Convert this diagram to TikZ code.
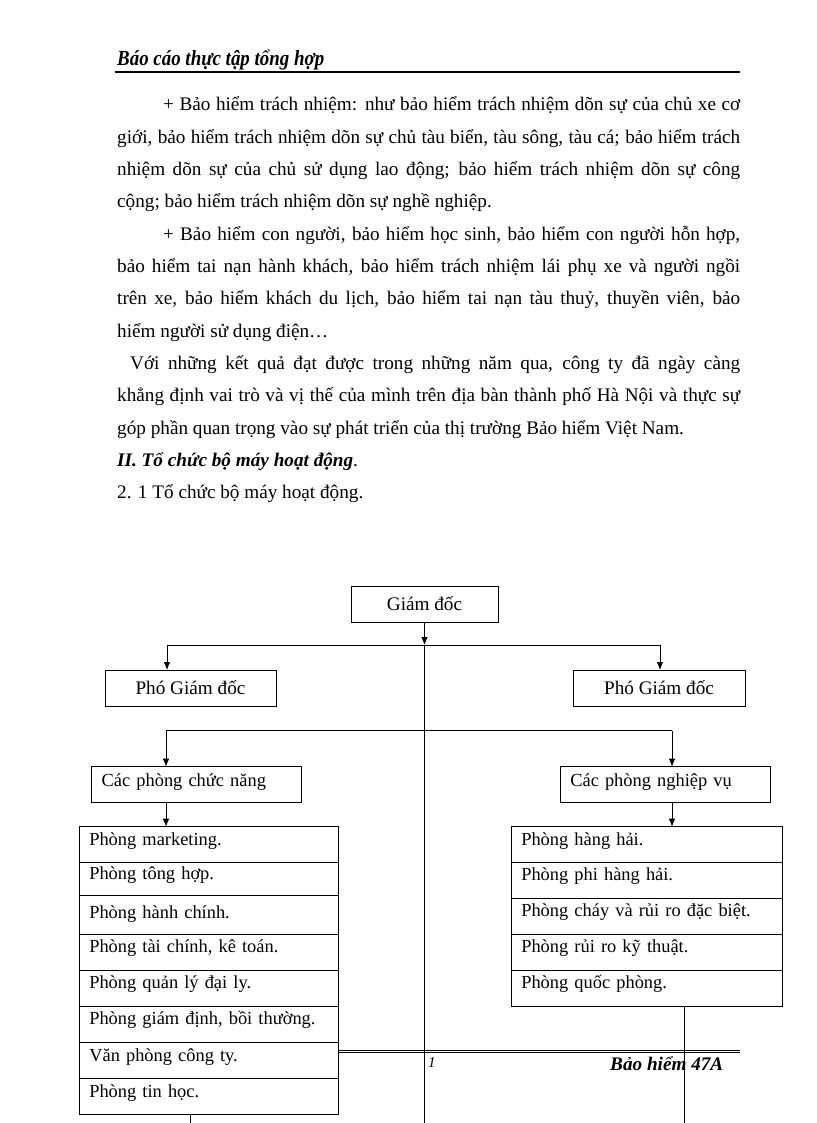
\documentclass[tikz,border=0pt]{standalone}
\usepackage{fontspec}
\setmainfont{Liberation Serif}
\usetikzlibrary{arrows.meta,positioning}

\newcommand{\bodyfont}{\fontsize{19.2}{32.3}\selectfont\hyphenpenalty=10000\tolerance=9999}
\newcommand{\chartfont}{\fontsize{19.2}{23}\selectfont}
\newcommand{\rowfont}{\fontsize{18.4}{22}\selectfont}

\begin{document}
\begin{tikzpicture}[x=1pt, y=-1pt,
    body/.style = {anchor=base west, inner sep=0pt, text width=623pt, align=justify, font=\bodyfont},
    box/.style = {draw, fill=white, line width=0.8pt, outer sep=0pt, inner sep=0pt, font=\chartfont},
    lbox/.style = {box, inner xsep=10pt, align=left, font=\rowfont, text height=10pt, text depth=9pt},
    row/.style = {lbox, anchor=north west},
    lrow/.style = {row, text width=239.4pt},
    rrow/.style = {row, text width=251pt},
    arr/.style = {-{Latex[length=8pt,width=6.5pt]}, line width=0.8pt},
    ln/.style = {line width=0.8pt}]
    \useasboundingbox[fill=white] (0,0) rectangle (816,1123);

    % page header
    \node[anchor=base west, inner sep=0pt, xscale=0.88, font=\fontsize{21.5}{25}\selectfont\bfseries\itshape] (hdr) at (117,66) {Báo cáo thực tập tổng hợp};
    \draw[line width=1.8pt] (115,72) -- (740,72);

    % text
    \node[body] (par1) at (117,111) {\hspace*{46pt}+ Bảo hiểm trách nhiệm: như bảo hiểm trách nhiệm dõn sự của chủ xe cơ\linebreak
        giới, bảo hiểm trách nhiệm dõn sự chủ tàu biển, tàu sông, tàu cá; bảo hiểm trách\linebreak
        nhiệm dõn sự của chủ sử dụng lao động; bảo hiểm trách nhiệm dõn sự công\linebreak
        cộng; bảo hiểm trách nhiệm dõn sự nghề nghiệp.};
    \node[body] (par2) at (117,240.2) {\hspace*{46pt}+ Bảo hiểm con người, bảo hiểm học sinh, bảo hiểm con người hỗn hợp,\linebreak
        bảo hiểm tai nạn hành khách, bảo hiểm trách nhiệm lái phụ xe và người ngồi\linebreak
        trên xe, bảo hiểm khách du lịch, bảo hiểm tai nạn tàu thuỷ, thuyền viên, bảo\linebreak
        hiểm người sử dụng điện…};
    \node[body] (par3) at (117,369.4) {\hspace*{13pt}Với những kết quả đạt được trong những năm qua, công ty đã ngày càng\linebreak
        khẳng định vai trò và vị thế của mình trên địa bàn thành phố Hà Nội và thực sự\linebreak
        góp phần quan trọng vào sự phát triển của thị trường Bảo hiểm Việt Nam.};
    \node[body] (sec2) at (117,466.3) {\textbf{\textit{II. Tổ chức bộ máy hoạt động}}.};
    \node[body] (sec21) at (117,498.6) {2. 1 Tổ chức bộ máy hoạt động.};

    % page footer
    \draw[ln] (117,1050) -- (740,1050);
    \draw[ln] (117,1052.7) -- (740,1052.7);
    \node[anchor=base west, inner sep=0pt, font=\fontsize{15}{18}\selectfont\itshape] (pgno) at (428,1067) {1};
    \node[anchor=base west, inner sep=0pt, font=\chartfont\bfseries\itshape] (ftr) at (610,1070) {Bảo hiểm 47A};

    % chart
    \node[box, minimum width=147pt, minimum height=36pt, anchor=north west] (gd) at (351,586) {Giám đốc};
    \node[box, minimum width=171pt, minimum height=36pt, anchor=north west] (pgdl) at (105,670) {Phó Giám đốc};
    \node[box, minimum width=172pt, minimum height=36pt, anchor=north west] (pgdr) at (573,670) {Phó Giám đốc};
    \node[lbox, text width=190pt, text height=13pt, minimum height=35.3pt, anchor=north west] (cpcn) at (91.7,766.7) {Các phòng chức năng};
    \node[lbox, text width=189.7pt, text height=13pt, minimum height=35.3pt, anchor=north west] (cpnv) at (560.3,766.7) {Các phòng nghiệp vụ};

    \node[lrow, minimum height=35.6pt] (L1) at (79.3,826.7) {Phòng marketing.};
    \node[lrow, minimum height=33pt, below=0pt of L1] (L2) {Phòng tông hợp.};
    \node[lrow, minimum height=39pt, text height=16pt, below=0pt of L2] (L3) {Phòng hành chính.};
    \node[lrow, minimum height=35.7pt, below=0pt of L3] (L4) {Phòng tài chính, kê toán.};
    \node[lrow, minimum height=36pt, below=0pt of L4] (L5) {Phòng quản lý đại ly.};
    \node[lrow, minimum height=36.3pt, below=0pt of L5] (L6) {Phòng giám định, bồi thường.};
    \node[lrow, minimum height=36.4pt, below=0pt of L6] (L7) {Văn phòng công ty.};
    \node[lrow, minimum height=35.6pt, below=0pt of L7] (L8) {Phòng tin học.};

    \node[rrow, minimum height=35.6pt] (R1) at (511.3,826.7) {Phòng hàng hải.};
    \node[rrow, minimum height=36pt, below=0pt of R1] (R2) {Phòng phi hàng hải.};
    \node[rrow, minimum height=36pt, below=0pt of R2] (R3) {Phòng cháy và rủi ro đặc biệt.};
    \node[rrow, minimum height=35.7pt, below=0pt of R3] (R4) {Phòng rủi ro kỹ thuật.};
    \node[rrow, minimum height=36pt, below=0pt of R4] (R5) {Phòng quốc phòng.};

    \coordinate (j1) at (424.5,645);
    \coordinate (h1l) at (167,645);
    \coordinate (h1r) at (660,645);
    \coordinate (h2l) at (166,730.5);
    \coordinate (h2r) at (672,730.5);
    \coordinate (bot) at (424.5,1123);
    \coordinate (botl) at (190,1123);
    \coordinate (botr) at (684,1123);

    \draw[arr] (gd) -- (j1);
    \draw[ln] (h1l) -- (h1r);
    \draw[ln] (j1) -- (bot);
    \draw[arr] (h1l) -- (h1l |- pgdl.north);
    \draw[arr] (h1r) -- (h1r |- pgdr.north);
    \draw[ln] (h2l) -- (h2r);
    \draw[arr] (h2l) -- (h2l |- cpcn.north);
    \draw[arr] (h2r) -- (h2r |- cpnv.north);
    \draw[arr] (h2l |- cpcn.south) -- (h2l |- L1.north);
    \draw[arr] (h2r |- cpnv.south) -- (h2r |- R1.north);
    \draw[ln] (botl |- L8.south) -- (botl);
    \draw[ln] (botr |- R5.south) -- (botr);
\end{tikzpicture}
\end{document}
